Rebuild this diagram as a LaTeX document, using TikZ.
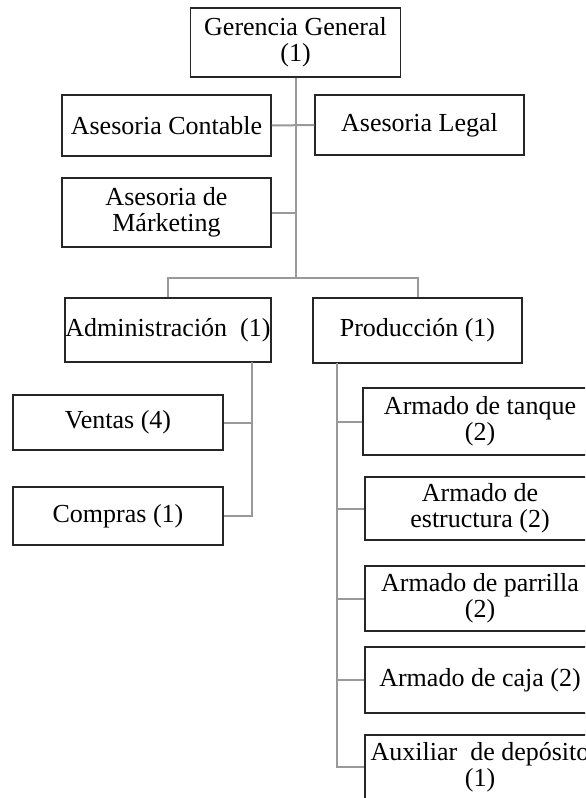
\documentclass[tikz,border=0pt]{standalone}
\usepackage{fontspec}
\setmainfont{Liberation Serif}
\usetikzlibrary{positioning}

\begin{document}
\begin{tikzpicture}[x=0.5pt, y=-0.5pt]

    % Define styles
    \tikzset{
        unit box/.style={draw=black!85, line width=0.75pt, fill=white, align=center,
            inner sep=0pt, font=\fontsize{13}{13}\selectfont},
        link/.style={draw=black!40, line width=1pt}
    }

    % Page size (the right column runs off the edge)
    \useasboundingbox (0,0) rectangle (585,798);
    \clip (0,0) rectangle (585,798);

    % Top of the chart
    \node[unit box, minimum width=105pt, minimum height=34.5pt] (ger) at (295.5,42.5) {Gerencia General\\(1)};

    % Staff units
    \node[unit box, minimum width=104.5pt, minimum height=30.5pt] (cont) at (166.5,125.5) {Asesoria Contable};
    \node[unit box, minimum width=104.5pt, minimum height=30pt] (legal) at (419.5,125) {Asesoria Legal};
    \node[unit box, minimum width=104.5pt, minimum height=34.5pt] (mark) at (166.5,212.5) {Asesoria de\\Márketing};

    % Departments
    \node[unit box, minimum width=103pt, minimum height=32pt] (adm) at (168,330) {Administración\ \ (1)};
    \node[unit box, minimum width=104.5pt, minimum height=32.5pt] (prod) at (417.5,330.5) {Producción (1)};

    % Under Administracion
    \node[unit box, minimum width=105pt, minimum height=27.5pt] (ventas) at (118,422.5) {Ventas (4)};
    \node[unit box, minimum width=105pt, minimum height=29pt] (compras) at (118,516) {Compras (1)};

    % Under Produccion
    \node[unit box, minimum width=117pt, minimum height=33.5pt] (tanque) at (480,421.5) {Armado de tanque\\(2)};
    \node[unit box, minimum width=115pt, minimum height=31.5pt] (estr) at (480,508.5) {Armado de\\estructura (2)};
    \node[unit box, minimum width=115pt, minimum height=32.5pt] (parr) at (480,598.5) {Armado de parrilla\\(2)};
    \node[unit box, minimum width=115pt, minimum height=33pt] (caja) at (480,680) {Armado de caja (2)};
    \node[unit box, minimum width=115pt, minimum height=32pt] (aux) at (480,767) {Auxiliar\ \ de depósito\\(1)};

    % Branch points
    \coordinate (split) at (295.5,278);
    \coordinate (adm-drop) at (252,362);
    \coordinate (prod-drop) at (337,363);

    % Connectors from the top
    \draw[link] (ger.south) -- (split);
    \draw[link] (cont.east) -- (legal.west);
    \draw[link] (mark.east) -- (mark.east -| split);
    \draw[link] (adm.north) |- (split) -| (prod.north);

    % Administracion branch
    \draw[link] (adm-drop) |- (compras.east);
    \draw[link] (ventas.east) -- (ventas.east -| adm-drop);

    % Produccion branch
    \draw[link] (prod-drop) |- (aux.west);
    \foreach \unit in {tanque,estr,parr,caja} {
        \draw[link] (\unit.west) -- (\unit.west -| prod-drop);
    }

\end{tikzpicture}
\end{document}
